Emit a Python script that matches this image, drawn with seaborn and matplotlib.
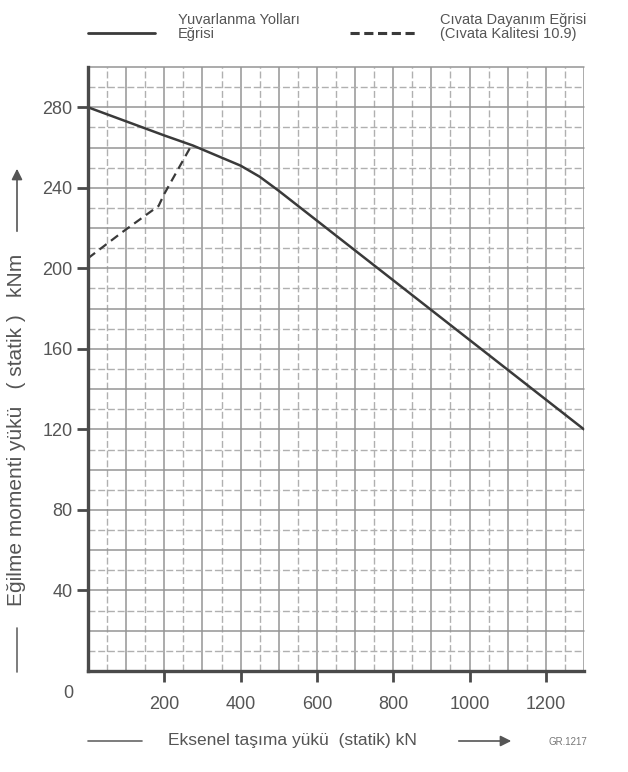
import numpy as np
import pandas as pd
import matplotlib.pyplot as plt
import seaborn as sns
from matplotlib.lines import Line2D

# Yuvarlanma yollari egrisi (solid)
track_load = [0, 100, 200, 275, 350, 400, 450, 500, 1300]
track_moment = [280, 273, 266, 261, 255, 251, 245.5, 238.5, 120]

# Civata dayanim egrisi (dashed)
bolt_load = [0, 90, 185, 200, 268]
bolt_moment = [205, 218, 231, 237, 260]

x_ticks = [200, 400, 600, 800, 1000, 1200]
y_ticks = [40, 80, 120, 160, 200, 240, 280]

sns.set_style("white")
plt.rcParams['font.family'] = ['Liberation Sans', 'DejaVu Sans']

txt = '#555555'
ink = '#3a3a3a'
grid_c = '#959595'
grid_d = '#b0b0b0'

fig = plt.figure(figsize=(6.28, 7.72), dpi=100)
W, H = 628, 772
ax = fig.add_axes([88 / W, 1 - 671 / H, (584 - 88) / W, (671 - 67) / H])

# grid: solid every 100 / 20, lighter dashed in between
for gx in np.arange(50, 1301, 50):
    if gx % 100 == 0:
        ax.axvline(gx, color=grid_c, lw=1.1, zorder=0)
    else:
        ax.axvline(gx, color=grid_d, lw=1.0, ls=(0, (5, 2)), zorder=0)
for gy in np.arange(10, 301, 10):
    if gy % 20 == 0:
        ax.axhline(gy, color=grid_c, lw=1.1, zorder=0, clip_on=False)
    else:
        ax.axhline(gy, color=grid_d, lw=1.0, ls=(0, (5, 2)), zorder=0)

track = pd.DataFrame({'load': track_load, 'moment': track_moment})
bolt = pd.DataFrame({'load': bolt_load, 'moment': bolt_moment})
sns.lineplot(data=track, x='load', y='moment', ax=ax, color=ink, lw=1.8, sort=False, zorder=3)
sns.lineplot(data=bolt, x='load', y='moment', ax=ax, color=ink, lw=1.6, sort=False,
             linestyle=(0, (4, 2.5)), zorder=3)

ax.set_xlim(0, 1300)
ax.set_ylim(0, 300)
ax.set_xticks(x_ticks)
ax.set_yticks(y_ticks)
ax.set_xlabel('')
ax.set_ylabel('')
ax.tick_params(axis='x', length=8, width=2, color='#4a4a4a', labelsize=13, labelcolor=txt, pad=10)
ax.tick_params(axis='y', length=8, width=2, color='#4a4a4a', labelsize=13, labelcolor=txt, pad=3)
ax.tick_params(bottom=True, left=True)
for s in ['top', 'right']:
    ax.spines[s].set_visible(False)
for s in ['bottom', 'left']:
    ax.spines[s].set_color('#4a4a4a')
    ax.spines[s].set_linewidth(2.4)
    ax.spines[s].set_zorder(4)

def fx(px):
    return px / W

def fy(py):
    return 1 - py / H

# origin label
fig.text(fx(68), fy(693), '0', fontsize=13, color=txt, ha='center', va='center')

# legend (manual, above the axes)
fig.add_artist(Line2D([fx(88), fx(155)], [fy(33), fy(33)], color=ink, lw=2.0))
fig.text(fx(178), fy(27), 'Yuvarlanma Yolları\nEğrisi', fontsize=10.5, color=txt,
         ha='left', va='center', linespacing=1.0)
fig.add_artist(Line2D([fx(350), fx(415)], [fy(33), fy(33)], color=ink, lw=2.2,
                      linestyle=(0, (3, 1.5))))
fig.text(fx(440), fy(27), 'Cıvata Dayanım Eğrisi\n(Cıvata Kalitesi 10.9)', fontsize=10.5,
         color=txt, ha='left', va='center', linespacing=1.0)

# y axis label with arrow
fig.text(fx(17), fy(430), 'Eğilme momenti yükü   ( statik )   kNm', fontsize=15, color=txt,
         rotation=90, ha='center', va='center')
fig.add_artist(Line2D([fx(17), fx(17)], [fy(628), fy(672)], color='#666666', lw=1.2))
ax.annotate('', xy=(fx(17), fy(166)), xytext=(fx(17), fy(234)), xycoords='figure fraction',
            arrowprops=dict(arrowstyle='-|>', color='#555555', lw=1.2, mutation_scale=16))

# x axis label with arrow
fig.text(fx(292), fy(740), 'Eksenel taşıma yükü  (statik) kN', fontsize=12.5, color=txt,
         ha='center', va='center')
fig.add_artist(Line2D([fx(88), fx(142)], [fy(741), fy(741)], color='#666666', lw=1.2))
ax.annotate('', xy=(fx(514), fy(741)), xytext=(fx(456), fy(741)), xycoords='figure fraction',
            arrowprops=dict(arrowstyle='-|>', color='#555555', lw=1.2, mutation_scale=16))

fig.text(fx(568), fy(742), 'GR.1217', fontsize=7, color='#777777', ha='center', va='center')

fig.savefig('out.png', dpi=100)
